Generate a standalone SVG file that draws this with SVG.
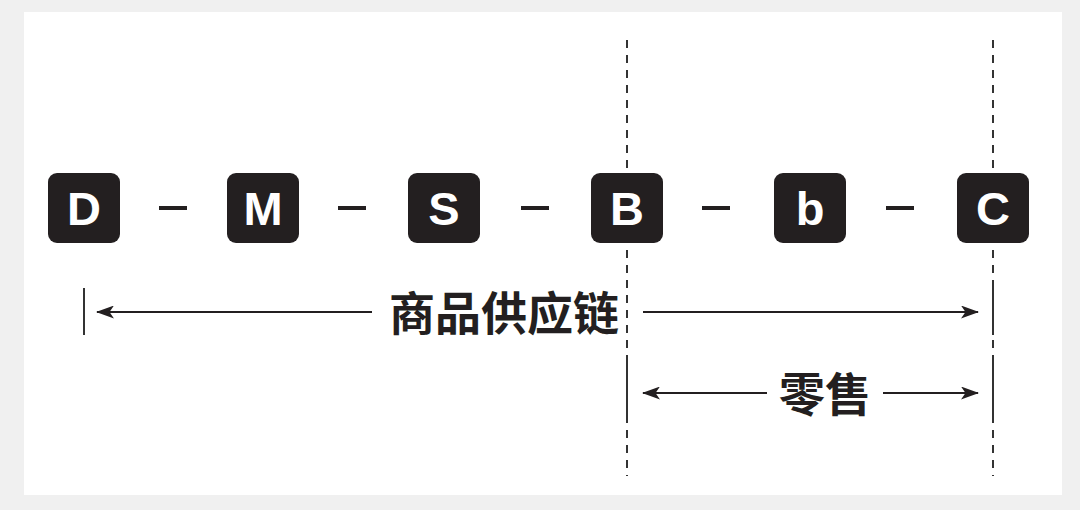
<svg xmlns="http://www.w3.org/2000/svg" width="1080" height="510" viewBox="0 0 1080 510">
<style>
.box{fill:#231f20}
.lt{fill:#fff;font-family:"Liberation Sans",Arial,sans-serif;font-weight:bold;font-size:47px;text-anchor:middle}
.dash{stroke:#231f20;stroke-width:4}
.vd{stroke:#333;stroke-width:2;stroke-dasharray:8 7}
.sv{stroke:#333;stroke-width:2}
.ar{stroke:#231f20;stroke-width:2;fill:none}
.cn{fill:#231f20;font-family:"Noto Sans CJK SC","Noto Sans",sans-serif;font-weight:bold;font-size:46px;text-anchor:middle}
</style>
<defs>
<marker id="ah" viewBox="0 0 18 13" refX="17" refY="6.5" markerWidth="18" markerHeight="13" markerUnits="userSpaceOnUse" orient="auto-start-reverse">
<path d="M0,0 L18,6.5 L0,13 L4.5,6.5 Z" fill="#231f20"/>
</marker>
</defs>
<rect width="1080" height="510" fill="#f0f0f0"/>
<rect x="24" y="12" width="1038" height="483" fill="#fff"/>
<g id="guides">
<line class="vd" x1="627" y1="40" x2="627" y2="476"/>
<line class="vd" x1="993" y1="40" x2="993" y2="476"/>
<line class="sv" x1="84" y1="288" x2="84" y2="335"/>
<line class="sv" x1="993" y1="288" x2="993" y2="335"/>
<line class="sv" x1="627" y1="363" x2="627" y2="417"/>
<line class="sv" x1="993" y1="363" x2="993" y2="417"/>
</g>
<g id="node-D"><rect class="box" x="48" y="173" width="72" height="70" rx="9"/><text class="lt" x="84" y="225">D</text></g>
<g id="node-M"><rect class="box" x="227" y="173" width="72" height="70" rx="9"/><text class="lt" x="263" y="225">M</text></g>
<g id="node-S"><rect class="box" x="408" y="173" width="72" height="70" rx="9"/><text class="lt" x="444" y="225">S</text></g>
<g id="node-B"><rect class="box" x="591" y="173" width="72" height="70" rx="9"/><text class="lt" x="627" y="225">B</text></g>
<g id="node-b"><rect class="box" x="774" y="173" width="72" height="70" rx="9"/><text class="lt" x="810" y="225">b</text></g>
<g id="node-C"><rect class="box" x="957" y="173" width="72" height="70" rx="9"/><text class="lt" x="993" y="225">C</text></g>
<g id="connectors">
<line class="dash" x1="159" y1="208" x2="187" y2="208"/>
<line class="dash" x1="338" y1="208" x2="366" y2="208"/>
<line class="dash" x1="521" y1="208" x2="549" y2="208"/>
<line class="dash" x1="702" y1="208" x2="730" y2="208"/>
<line class="dash" x1="886" y1="208" x2="914" y2="208"/>
<line class="ar" x1="372" y1="312" x2="97" y2="312" marker-end="url(#ah)"/>
<line class="ar" x1="643" y1="312" x2="978" y2="312" marker-end="url(#ah)"/>
<line class="ar" x1="767" y1="393" x2="643" y2="393" marker-end="url(#ah)"/>
<line class="ar" x1="883" y1="393" x2="978" y2="393" marker-end="url(#ah)"/>
</g>
<g id="labels">
<text class="cn" x="504" y="330">商品供应链</text>
<text class="cn" x="825" y="411">零售</text>
</g>
</svg>
